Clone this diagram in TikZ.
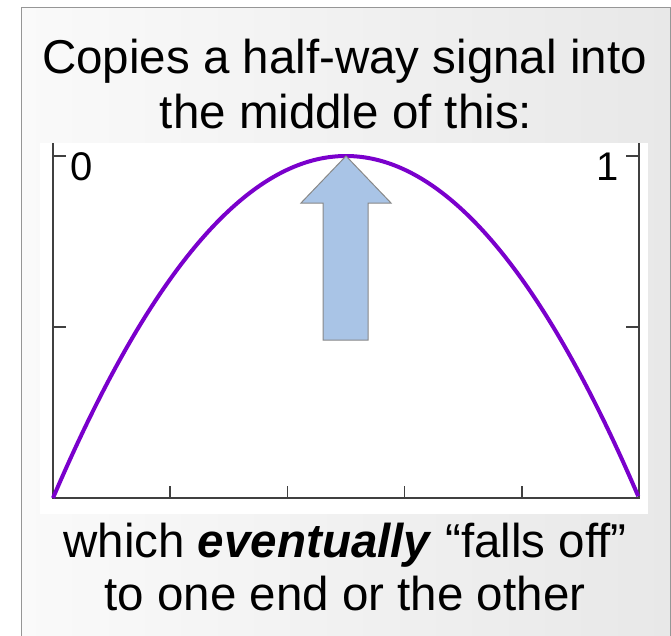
\documentclass[tikz,border=0pt]{standalone}
\usepackage{fontspec}
\setmainfont{Liberation Sans}
\definecolor{curvecol}{RGB}{122,0,204}
\definecolor{arrowfill}{RGB}{169,196,230}
\definecolor{arrowline}{RGB}{136,136,136}
\definecolor{axiscol}{RGB}{64,64,64}
\definecolor{framecol}{RGB}{150,150,150}
\tikzset{
  bigtext/.style={font=\fontsize{47.5}{55}\selectfont, inner sep=0pt, anchor=base},
  digit/.style={font=\fontsize{40}{44}\selectfont, inner sep=0pt},
  axisline/.style={draw=axiscol, line width=1.6pt},
  curveline/.style={draw=curvecol, line width=4pt},
  blockarrow/.style={fill=arrowfill, draw=arrowline, line width=1pt, line join=miter}
}
\begin{document}
\begin{tikzpicture}[x=1pt, y=-1pt]
\useasboundingbox (0,0) rectangle (671,635);
% frame with light gradient
\shade[left color=white!98!black, right color=white!91!black] (21,7) rectangle (670,640);
\draw[framecol, line width=1pt] (21,640) -- (21,7) -- (670,7) -- (670,640);
% plot area
\fill[white] (40,143) rectangle (648,514);
% axes
\coordinate (tl) at (53,143);
\coordinate (bl) at (53,498);
\coordinate (br) at (639,498);
\coordinate (tr) at (639,143);
\draw[axisline] (tl) -- (bl) -- (br) -- (tr);
% y ticks
\foreach \y in {156,327}{
  \draw[axisline] (53,\y) -- (66,\y);
  \draw[axisline] (626,\y) -- (639,\y);
}
% x ticks
\foreach \x in {170.2,287.4,404.6,521.8}{
  \draw[axisline] (\x,486) -- (\x,498);
}
% curve
\draw[curveline] plot[domain=0:1, samples=120, smooth] ({53+586*\x},{498-1368*\x*(1-\x)});
% block arrow
\draw[blockarrow] (346,156) -- (391,203) -- (368,203) -- (368,340) -- (323,340) -- (323,203) -- (301,203) -- cycle;
% digits
\node[digit, anchor=base west] (zero) at (70,180) {0};
\node[digit, anchor=base east] (one) at (619,180) {1};
% texts
\node[bigtext] (t1) at (344.5,73) {Copies a half-way signal into};
\node[bigtext] (t2) at (346,128) {the middle of this:};
\node[bigtext] (b1) at (345,557) {which \textbf{\textit{eventually}} “falls off”};
\node[bigtext] (b2) at (345,610) {to one end or the other};
\end{tikzpicture}
\end{document}
